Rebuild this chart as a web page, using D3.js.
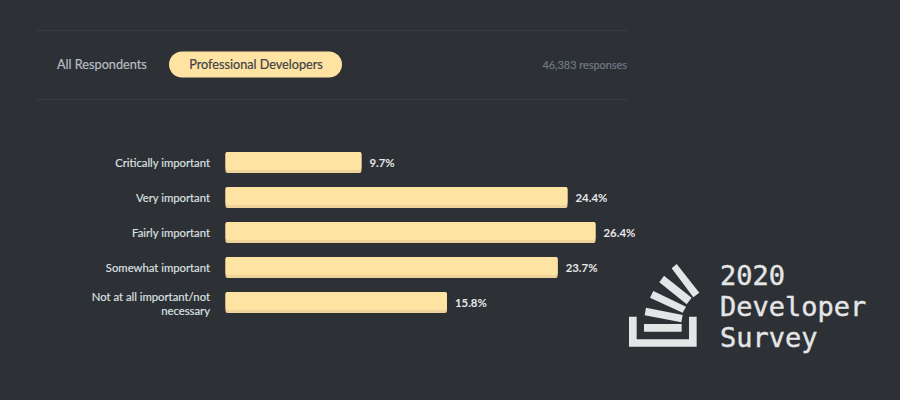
<!DOCTYPE html>
<html>
<head>
<meta charset="utf-8">
<script src="https://cdn.jsdelivr.net/npm/d3@7"></script>
<style>
html,body{margin:0;padding:0;background:#2d3035;}
svg{display:block;}
text{font-family:"Lato","Noto Sans",sans-serif;}
</style>
</head>
<body>
<div id="wrapper"></div>
<script>
// Data
const categories=['Critically important','Very important','Fairly important','Somewhat important','Not at all important/not necessary'];
const values=[9.7,24.4,26.4,23.7,15.8];
const tabs=['All Respondents','Professional Developers'];
const responses='46,383 responses';
const logoLines=['2020','Developer','Survey'];

// Dimension
const width=900,height=400;
const svg=d3.select('#wrapper').append('svg').attr('width',width).attr('height',height);
svg.append('rect').attr('width',width).attr('height',height).attr('fill','#2d3035');

// Scales
const xScale=d3.scaleLinear().domain([0,26.4]).range([225.5,595.5]);
const yScale=d3.scaleBand().domain(categories).range([145,320]).paddingInner(0.4).paddingOuter(0.2);

// Header
svg.selectAll('line.rule').data([30,99]).enter().append('line').attr('class','rule')
    .attr('x1',36).attr('x2',627).attr('y1',d=>d+0.5).attr('y2',d=>d+0.5)
    .attr('stroke','#393c42');
svg.append('text').text(tabs[0]).attr('x',57).attr('y',69)
    .attr('font-size',12.7).attr('fill','#b6bdc3').attr('stroke','#b6bdc3').attr('stroke-width',0.2);
svg.append('rect').attr('x',169).attr('y',51.5).attr('width',173).attr('height',26).attr('rx',13)
    .attr('fill','#fee3a2');
svg.append('text').text(tabs[1]).attr('x',256).attr('y',69).attr('text-anchor','middle')
    .attr('font-size',12.65).attr('fill','#3f4247').attr('stroke','#3f4247').attr('stroke-width',0.2);
svg.append('text').text(responses).attr('x',627).attr('y',69).attr('text-anchor','end')
    .attr('font-size',10.9).attr('fill','#6f7a85').attr('stroke','#6f7a85').attr('stroke-width',0.2);

// Bars
const rows=svg.selectAll('g.row').data(categories).enter().append('g').attr('class','row');
rows.append('rect')
    .attr('x',xScale(0)).attr('y',d=>yScale(d))
    .attr('width',(d,i)=>xScale(values[i])-xScale(0)).attr('height',yScale.bandwidth())
    .attr('rx',2).attr('fill','#eed49a');
rows.append('rect')
    .attr('x',xScale(0)).attr('y',d=>yScale(d))
    .attr('width',(d,i)=>xScale(values[i])-xScale(0)).attr('height',yScale.bandwidth()-3)
    .attr('rx',2).attr('fill','#fee3a2');
rows.append('text')
    .attr('x',(d,i)=>xScale(values[i])+8).attr('y',d=>yScale(d)+yScale.bandwidth()/2+4)
    .attr('font-size',11.4).attr('font-weight',700).attr('fill','#e6e8ea')
    .text((d,i)=>values[i]+'%');

// Category labels, long one wraps on two lines
rows.append('text')
    .attr('text-anchor','end').attr('font-size',11.3).attr('fill','#dfe2e4')
    .attr('stroke','#dfe2e4').attr('stroke-width',0.15)
    .each(function(d){
        const t=d3.select(this);
        const mid=yScale(d)+yScale.bandwidth()/2;
        if(d.length>30){
            const cut=d.lastIndexOf('not necessary')+4;
            t.append('tspan').attr('x',210).attr('y',mid-2).text(d.slice(0,cut-1));
            t.append('tspan').attr('x',210).attr('y',mid+12).text(d.slice(cut));
        }else{
            t.append('tspan').attr('x',210).attr('y',mid+4).text(d);
        }
    });

// Logo, traced in 3x zoom units
const logo=svg.append('g').attr('transform','translate(620,250) scale(0.3333)').attr('fill','#e3e5e7');
const logoShapes=[
    '27,200 50,200 50,268 207,268 207,200 230,200 230,290 27,290',
    '72,222 185,222 185,245 72,245',
    '78,173 188,195 184,217 74,196',
    '100,123 198,170 188,188 90,143',
    '132,77 215,143 200,163 118,97',
    '170,42 238,128 220,142 155,55'
];
logo.selectAll('polygon').data(logoShapes).enter().append('polygon').attr('points',d=>d);
svg.selectAll('text.logo').data(logoLines).enter().append('text').attr('class','logo')
    .attr('x',720).attr('y',(d,i)=>285+i*31)
    .style('font-family','"DejaVu Sans Mono",monospace')
    .attr('font-size',27).attr('fill','#e3e5e7').attr('stroke','#e3e5e7').attr('stroke-width',0.4)
    .text(d=>d);
</script>
</body>
</html>
